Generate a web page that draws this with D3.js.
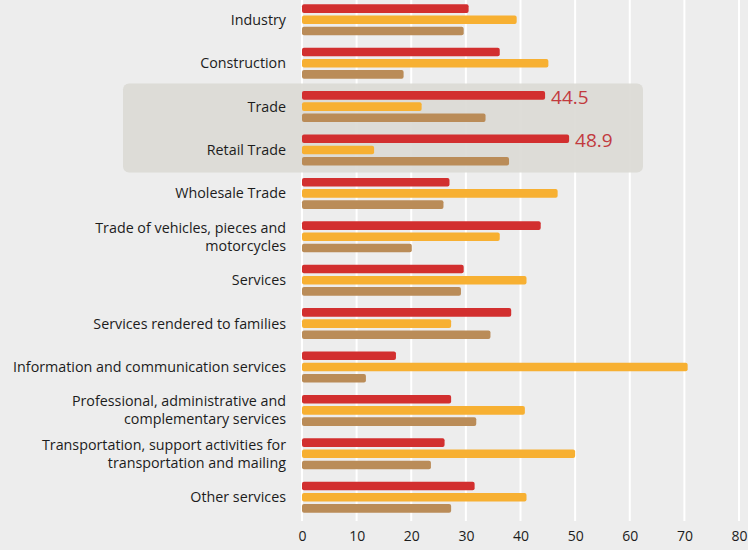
<!DOCTYPE html>
<html>
<head>
<meta charset="utf-8">
<script src="https://cdn.jsdelivr.net/npm/d3@7"></script>
<style>
  html, body { margin: 0; padding: 0; background: #ededed; }
  svg { display: block; }
  text { font-family: "Open Sans", "Noto Sans", sans-serif; }
</style>
</head>
<body>
<svg id="chart"></svg>
<script>
// --- DATA ---
const categories = [
  "Industry",
  "Construction",
  "Trade",
  "Retail Trade",
  "Wholesale Trade",
  "Trade of vehicles, pieces and|motorcycles",
  "Services",
  "Services rendered to families",
  "Information and communication services",
  "Professional, administrative and|complementary services",
  "Transportation, support activities for|transportation and mailing",
  "Other services"
];
const seriesKeys = ["red", "orange", "tan"];
const redValues    = [30.5, 36.2, 44.5, 48.9, 27.0, 43.7, 29.6, 38.3, 17.2, 27.3, 26.1, 31.6];
const orangeValues = [39.3, 45.1, 21.9, 13.2, 46.8, 36.2, 41.1, 27.3, 70.6, 40.8, 50.0, 41.1];
const tanValues    = [29.6, 18.6, 33.6, 37.9, 25.9, 20.1, 29.1, 34.5, 11.7, 31.9, 23.6, 27.3];
const highlighted = ["Trade", "Retail Trade"];
const xTicks = [0, 10, 20, 30, 40, 50, 60, 70, 80];

const colors = { red: "#d22f2f", orange: "#f7b032", tan: "#ba8c58" };

// --- SETUP ---
const width = 748, height = 550;
const svg = d3.select("#chart").attr("width", width).attr("height", height);

const x = d3.scaleLinear().domain([0, 80]).range([302, 739]);
const y = d3.scaleBand().domain(categories).range([4.3, 512.7]).paddingInner(0.2857).paddingOuter(0);
const ySub = d3.scaleBand().domain(seriesKeys).range([0, y.bandwidth()]).paddingInner(0.232);

const rows = categories.map((c, i) => ({
  cat: c, red: redValues[i], orange: orangeValues[i], tan: tanValues[i]
}));

// gridlines
svg.append("g")
  .selectAll("line")
  .data(xTicks)
  .join("line")
  .attr("x1", d => x(d)).attr("x2", d => x(d))
  .attr("y1", 0).attr("y2", 521)
  .attr("stroke", "#fff")
  .attr("stroke-width", 2);

// highlight box
const hTop = y(highlighted[0]) - 7.5;
const hBottom = y(highlighted[1]) + y.bandwidth() + 7;
svg.append("rect")
  .attr("x", 123).attr("y", hTop)
  .attr("width", 643 - 123).attr("height", hBottom - hTop)
  .attr("rx", 6)
  .attr("fill", "#dbdad5")
  .attr("fill-opacity", 0.92);

// bars
const groups = svg.append("g")
  .selectAll("g")
  .data(rows)
  .join("g")
  .attr("transform", d => `translate(0,${y(d.cat)})`);

groups.selectAll("rect")
  .data(d => seriesKeys.map(k => ({ key: k, value: d[k] })))
  .join("rect")
  .attr("x", x(0))
  .attr("y", d => ySub(d.key))
  .attr("width", d => x(d.value) - x(0))
  .attr("height", ySub.bandwidth())
  .attr("rx", 2)
  .attr("fill", d => colors[d.key]);

// category labels
groups.each(function(d) {
  const lines = d.cat.split("|");
  const cy = y.bandwidth() / 2;
  const t = d3.select(this).append("text")
    .attr("x", 286)
    .attr("text-anchor", "end")
    .attr("font-size", 14.3)
    .attr("fill", "#1c1c1c");
  lines.forEach((ln, i) => {
    t.append("tspan")
      .attr("x", 286)
      .attr("y", cy + (i - (lines.length - 1) / 2) * 18)
      .attr("dy", "0.35em")
      .text(ln);
  });
});

// value labels for highlighted rows
svg.append("g")
  .selectAll("text")
  .data(rows.filter(r => highlighted.includes(r.cat)))
  .join("text")
  .attr("x", d => x(d.red) + 6)
  .attr("y", d => y(d.cat) + ySub("red") + ySub.bandwidth() / 2 + 2)
  .attr("dy", "0.35em")
  .attr("font-size", 19)
  .attr("fill", "#c23a3e")
  .text(d => d.red.toFixed(1));

// x axis
const xAxis = svg.append("g")
  .attr("transform", "translate(0,531)")
  .call(d3.axisBottom(x).tickValues(xTicks).tickSize(0).tickPadding(0));
xAxis.select(".domain").remove();
xAxis.selectAll("text")
  .attr("font-size", 14)
  .attr("fill", "#1c1c1c")
  .attr("font-family", "'Open Sans', 'Noto Sans', sans-serif");
</script>
</body>
</html>
